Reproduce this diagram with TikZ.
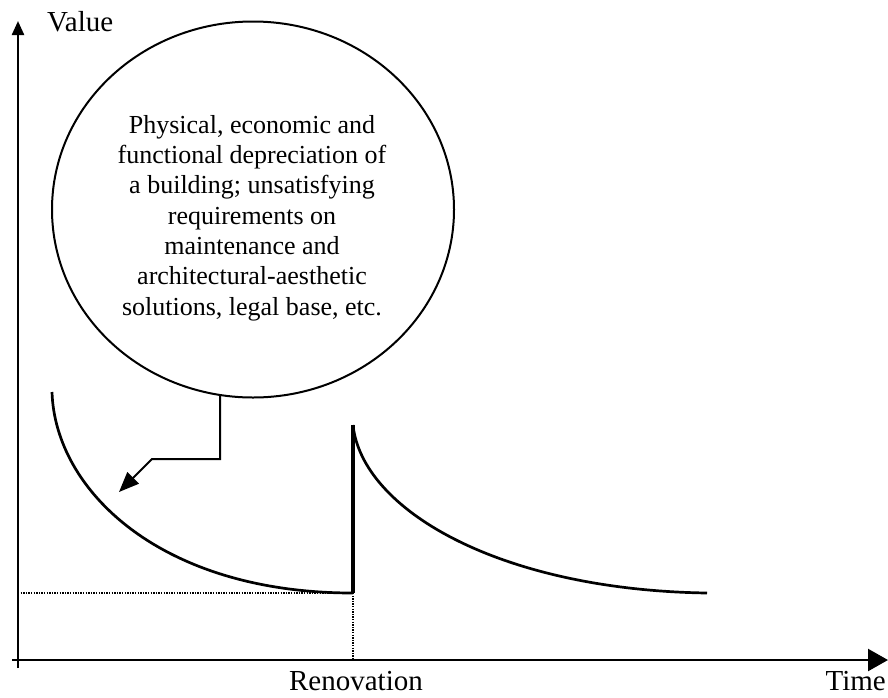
\documentclass[tikz,border=0pt]{standalone}
\usepackage{fontspec}
\setmainfont{Liberation Serif}
\usetikzlibrary{arrows.meta,shapes.geometric}
\begin{document}
\begin{tikzpicture}[x=1pt,y=-1pt,
  axis/.style={line width=2.3pt},
  curve/.style={line width=2.7pt},
  guide/.style={line width=1.4pt,dash pattern=on 1.4pt off 1.2pt},
  bubble/.style={draw,ellipse,line width=2pt,inner sep=0pt,minimum width=402pt,minimum height=376pt},
  bubbletext/.style={align=center,font=\fontsize{26}{30.3}\selectfont,inner sep=0pt},
  label/.style={font=\fontsize{29}{34}\selectfont,inner sep=0pt},
  callout/.style={line width=2pt,-{Triangle[length=20pt,width=16pt]}}]
\useasboundingbox (0,0) rectangle (888,697);

% axes
\coordinate (origin) at (18,660);
\coordinate (ytop) at (18,21);
\coordinate (ybottom) at (18,668);
\coordinate (xleft) at (12,660);
\coordinate (xright) at (888,660);
\draw[axis,-{Triangle[length=14pt,width=12pt]}] (ybottom) -- (ytop);
\draw[axis,-{Triangle[length=20pt,width=22pt]}] (xleft) -- (xright);

\node[label,anchor=base west] (value) at (47,31) {Value};
\node[label,anchor=base] (renov) at (356,690) {Renovation};
\node[label,anchor=base east] (time) at (886,690) {Time};

% value curve before and after renovation
\coordinate (start) at (52,392);
\coordinate (low) at (353,593);
\coordinate (peak) at (353,425);
\coordinate (final) at (707,593);
\draw[curve] (start) .. controls (55,490) and (160,593) .. (low);
\draw[line width=3.6pt] (low) -- (peak);
\draw[curve] (peak) .. controls (362,510) and (500,590) .. (final);

% guide lines
\coordinate (lowaxis) at (18,593);
\coordinate (renovaxis) at (353,660);
\draw[guide] (lowaxis) -- (low);
\draw[guide] (low) -- (renovaxis);

% explanatory bubble
\node[bubble] (note) at (253,209.5) {};
\node[bubbletext] (notetext) at (252,218) {Physical, economic and\\functional depreciation of\\a building; unsatisfying\\requirements on\\maintenance and\\architectural-aesthetic\\solutions, legal base, etc.};
\coordinate (elbow) at (152,459);
\coordinate (pointer) at (119,492);
\draw[callout] (note.260) |- (elbow) -- (pointer);
\end{tikzpicture}
\end{document}
